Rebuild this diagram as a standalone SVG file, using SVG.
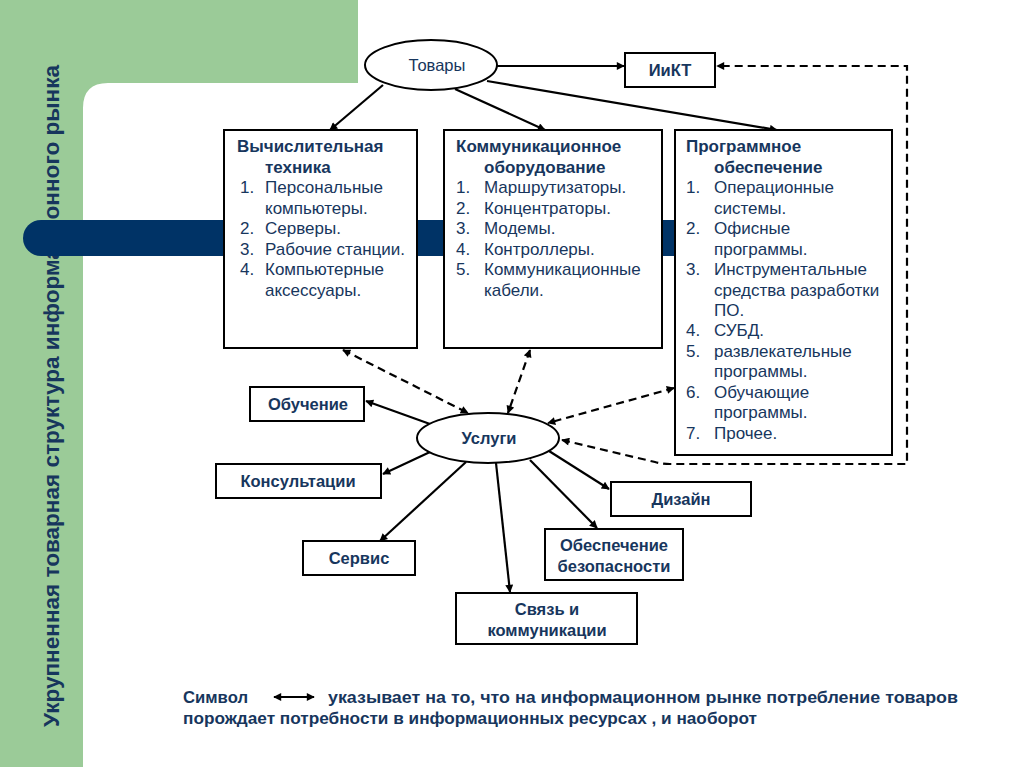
<svg xmlns="http://www.w3.org/2000/svg" width="1024" height="767" viewBox="0 0 1024 767">
<style>
.t{font-family:"Liberation Sans",Arial,sans-serif;fill:#17365d}
.b{font-weight:bold}
.box{fill:#fff;stroke:#000;stroke-width:2}
.ln{stroke:#000;stroke-width:2.2;fill:none}
.dash{stroke:#000;stroke-width:2.2;fill:none;stroke-dasharray:8 5}
.item{font-size:17px}
.ttl{font-size:17px;font-weight:bold}
.lbl{font-size:16.5px;font-weight:bold;text-anchor:middle}
</style>
<defs>
<marker id="ah" viewBox="0 0 10 10" refX="9" refY="5" markerWidth="10" markerHeight="8" markerUnits="userSpaceOnUse" orient="auto-start-reverse">
<path d="M0,0 L10,5 L0,10 Z" fill="#000"/>
</marker>
</defs>
<rect width="1024" height="767" fill="#fff"/>
<path d="M0,0 H358 V83 H108 Q83,83 83,108 V767 H0 Z" fill="#9bcb98"/>
<text class="t b" x="0" y="0" font-size="22" text-anchor="middle" textLength="662" lengthAdjust="spacingAndGlyphs" transform="translate(59,396) rotate(-90)">Укрупненная товарная структура информационного рынка</text>
<path d="M41,220 H676 V256 H41 A18,18 0 0 1 41,220 Z" fill="#003366"/>

<g id="connectors">
<line class="ln" x1="497" y1="66" x2="624" y2="66" marker-end="url(#ah)"/>
<line class="ln" x1="383" y1="85" x2="330" y2="130" marker-end="url(#ah)"/>
<line class="ln" x1="455" y1="89" x2="545" y2="130" marker-end="url(#ah)"/>
<line class="ln" x1="487" y1="81" x2="777" y2="130" marker-end="url(#ah)"/>
<path class="dash" d="M562,440 L655,462 Q662,464 670,464 H907 V66 H717" marker-start="url(#ah)" marker-end="url(#ah)"/>
<line class="dash" x1="343" y1="350" x2="468" y2="413" marker-start="url(#ah)" marker-end="url(#ah)"/>
<line class="dash" x1="530" y1="350" x2="508" y2="413" marker-start="url(#ah)" marker-end="url(#ah)"/>
<line class="dash" x1="674" y1="388" x2="548" y2="423" marker-start="url(#ah)" marker-end="url(#ah)"/>
<line class="ln" x1="430" y1="424" x2="366" y2="401" marker-end="url(#ah)"/>
<line class="ln" x1="430" y1="452" x2="383" y2="474" marker-end="url(#ah)"/>
<line class="ln" x1="466" y1="462" x2="380" y2="541" marker-end="url(#ah)"/>
<line class="ln" x1="496" y1="463" x2="510" y2="592" marker-end="url(#ah)"/>
<line class="ln" x1="530" y1="460" x2="597" y2="528" marker-end="url(#ah)"/>
<line class="ln" x1="549" y1="451" x2="609" y2="489" marker-end="url(#ah)"/>
</g>

<g id="tovary">
<ellipse class="box" cx="431" cy="65" rx="66" ry="25"/>
<text class="t" x="437" y="71" font-size="16.5" text-anchor="middle">Товары</text>
</g>
<g id="ikt">
<rect class="box" x="625" y="53" width="90" height="34"/>
<text class="t lbl" x="670" y="76">ИиКТ</text>
</g>

<g id="vt">
<rect class="box" x="224" y="130" width="193" height="218"/>
<text class="t ttl" x="237" y="152">Вычислительная</text>
<text class="t ttl" x="265" y="173">техника</text>
<g class="t item">
<text x="240" y="193">1.</text><text x="265" y="193">Персональные</text>
<text x="265" y="214">компьютеры.</text>
<text x="240" y="234">2.</text><text x="265" y="234">Серверы.</text>
<text x="240" y="255">3.</text><text x="265" y="255">Рабочие станции.</text>
<text x="240" y="275">4.</text><text x="265" y="275">Компьютерные</text>
<text x="265" y="296">аксессуары.</text>
</g>
</g>

<g id="ko">
<rect class="box" x="444" y="130" width="218" height="218"/>
<text class="t ttl" x="456" y="152">Коммуникационное</text>
<text class="t ttl" x="484" y="173">оборудование</text>
<g class="t item">
<text x="456" y="193">1.</text><text x="484" y="193">Маршрутизаторы.</text>
<text x="456" y="214">2.</text><text x="484" y="214">Концентраторы.</text>
<text x="456" y="234">3.</text><text x="484" y="234">Модемы.</text>
<text x="456" y="255">4.</text><text x="484" y="255">Контроллеры.</text>
<text x="456" y="275">5.</text><text x="484" y="275">Коммуникационные</text>
<text x="484" y="296">кабели.</text>
</g>
</g>

<g id="po">
<rect class="box" x="675" y="130" width="217" height="325"/>
<text class="t ttl" x="686" y="152">Программное</text>
<text class="t ttl" x="714" y="173">обеспечение</text>
<g class="t item">
<text x="686" y="193">1.</text><text x="714" y="193">Операционные</text>
<text x="714" y="214">системы.</text>
<text x="686" y="234">2.</text><text x="714" y="234">Офисные</text>
<text x="714" y="255">программы.</text>
<text x="686" y="275">3.</text><text x="714" y="275">Инструментальные</text>
<text x="714" y="296">средства разработки</text>
<text x="714" y="316">ПО.</text>
<text x="686" y="336">4.</text><text x="714" y="336">СУБД.</text>
<text x="686" y="357">5.</text><text x="714" y="357">развлекательные</text>
<text x="714" y="377">программы.</text>
<text x="686" y="398">6.</text><text x="714" y="398">Обучающие</text>
<text x="714" y="418">программы.</text>
<text x="686" y="439">7.</text><text x="714" y="439">Прочее.</text>
</g>
</g>

<g id="uslugi">
<ellipse class="box" cx="488" cy="438" rx="71" ry="25"/>
<text class="t lbl" x="489" y="444">Услуги</text>
</g>
<g id="obuchenie">
<rect class="box" x="250" y="387" width="114" height="34"/>
<text class="t lbl" x="308" y="410">Обучение</text>
</g>
<g id="konsult">
<rect class="box" x="216" y="464" width="165" height="34"/>
<text class="t lbl" x="298" y="487">Консультации</text>
</g>
<g id="servis">
<rect class="box" x="303" y="541" width="112" height="34"/>
<text class="t lbl" x="359" y="564">Сервис</text>
</g>
<g id="svyaz">
<rect class="box" x="456" y="593" width="181" height="51"/>
<text class="t lbl" x="547" y="615">Связь и</text>
<text class="t lbl" x="547" y="636">коммуникации</text>
</g>
<g id="bezop">
<rect class="box" x="545" y="529" width="138" height="51"/>
<text class="t lbl" x="614" y="551">Обеспечение</text>
<text class="t lbl" x="614" y="572">безопасности</text>
</g>
<g id="dizain">
<rect class="box" x="611" y="482" width="140" height="34"/>
<text class="t lbl" x="681" y="505">Дизайн</text>
</g>

<g id="note">
<text class="t b" x="183" y="703" font-size="17" textLength="65" lengthAdjust="spacingAndGlyphs">Символ</text>
<line x1="274" y1="697" x2="314" y2="697" stroke="#000" stroke-width="2" marker-start="url(#ah)" marker-end="url(#ah)"/>
<text class="t b" x="328" y="703" font-size="17" textLength="630" lengthAdjust="spacingAndGlyphs">указывает на то, что на информационном рынке потребление товаров</text>
<text class="t b" x="183" y="724" font-size="17" textLength="574" lengthAdjust="spacingAndGlyphs">порождает потребности в информационных ресурсах , и наоборот</text>
</g>
</svg>
